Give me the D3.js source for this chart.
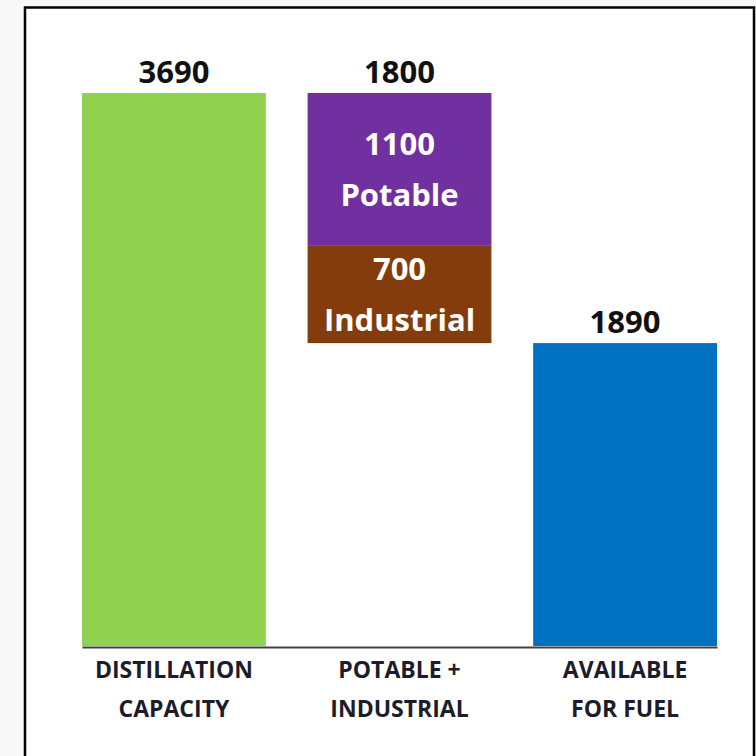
<!DOCTYPE html>
<script src="https://cdn.jsdelivr.net/npm/d3@7"></script>
<html>
    <head>
        <style>
            body { margin: 0; background: #f8f8f8; }
            text { font-family: "Open Sans", sans-serif; font-weight: bold; }
        </style>
    </head>
    <body>
        <div id="chart-div"></div>
        <script>
            // chart data
            const categories = ["DISTILLATION CAPACITY", "POTABLE + INDUSTRIAL", "AVAILABLE FOR FUEL"];
            const categoryLines = [["DISTILLATION", "CAPACITY"], ["POTABLE +", "INDUSTRIAL"], ["AVAILABLE", "FOR FUEL"]];
            const totals = [3690, 1800, 1890];
            const segmentNames = ["Potable", "Industrial"];
            const segmentValues = [1100, 700];

            // axis floor sits a bit below zero in the original
            const axisMin = -290;

            const barColors = ["#92d050", null, "#0070c0"];
            const segmentColors = ["#7030a0", "#843c0c"];

            const width = 756, height = 756;

            const svg = d3.select("#chart-div")
                .append("svg")
                .attr("width", width)
                .attr("height", height);

            // frame
            svg.append("rect")
                .attr("x", 25)
                .attr("y", 7.5)
                .attr("width", 729)
                .attr("height", 800)
                .attr("fill", "#fff")
                .attr("stroke", "#000")
                .attr("stroke-width", 2.5);

            const x = d3.scaleBand()
                .domain(categories)
                .range([82, 717])
                .paddingInner(0.185)
                .paddingOuter(0);

            const y = d3.scaleLinear()
                .domain([axisMin, d3.max(totals)])
                .range([646, 93]);

            // waterfall pieces
            const bars = [];
            bars.push({ cat: categories[0], top: totals[0], bottom: axisMin, color: barColors[0] });
            let level = totals[0];
            segmentValues.forEach(function (v, i) {
                bars.push({ cat: categories[1], top: level, bottom: level - v, color: segmentColors[i], value: v, name: segmentNames[i] });
                level -= v;
            });
            bars.push({ cat: categories[2], top: totals[2], bottom: axisMin, color: barColors[2] });

            svg.selectAll("rect.bar")
                .data(bars)
                .enter()
                .append("rect")
                .attr("class", "bar")
                .attr("x", d => x(d.cat))
                .attr("y", d => y(d.top))
                .attr("width", x.bandwidth())
                .attr("height", d => y(d.bottom) - y(d.top))
                .attr("fill", d => d.color);

            // labels inside the stacked segments
            const seg = svg.selectAll("text.seg")
                .data(bars.filter(d => d.name))
                .enter()
                .append("text")
                .attr("class", "seg")
                .attr("text-anchor", "middle")
                .attr("fill", "#fff")
                .style("font-size", "31px")
                .attr("x", d => x(d.cat) + x.bandwidth() / 2)
                .attr("y", d => (y(d.top) + y(d.bottom)) / 2 - 14.5);
            seg.append("tspan").text(d => d.value);
            seg.append("tspan")
                .attr("x", d => x(d.cat) + x.bandwidth() / 2)
                .attr("dy", 51)
                .text(d => d.name);

            // totals above bars
            const topValues = [totals[0], segmentValues[0] + segmentValues[1], totals[2]];
            svg.selectAll("text.total")
                .data(categories)
                .enter()
                .append("text")
                .attr("class", "total")
                .attr("text-anchor", "middle")
                .attr("fill", "#111")
                .style("font-size", "31px")
                .attr("x", d => x(d) + x.bandwidth() / 2)
                .attr("y", (d, i) => y(i === 1 ? totals[0] : totals[i]) - 10)
                .text((d, i) => topValues[i]);

            // bottom axis
            const axis = svg.append("g")
                .attr("transform", "translate(0," + 647 + ")")
                .call(d3.axisBottom(x).tickSize(0).tickSizeOuter(0).tickFormat(""));
            axis.select(".domain")
                .attr("stroke", "#404040")
                .attr("stroke-width", 2);

            const labels = axis.selectAll(".tick text")
                .attr("fill", "#1c1c2a")
                .style("font-size", "23px")
                .attr("dy", null)
                .attr("y", 31);
            labels.each(function (d, i) {
                const t = d3.select(this);
                categoryLines[i].forEach(function (line, j) {
                    t.append("tspan")
                        .attr("x", 0)
                        .attr("dy", j === 0 ? 0 : 39)
                        .text(line);
                });
            });
        </script>
    </body>
</html>
